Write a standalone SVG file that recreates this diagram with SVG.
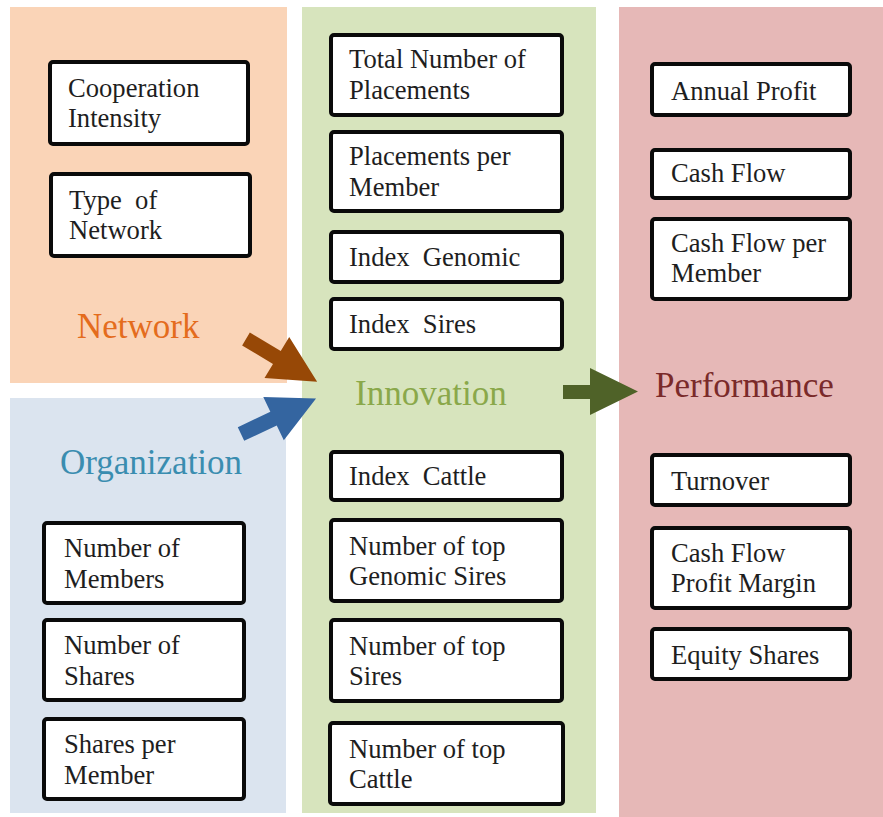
<svg xmlns="http://www.w3.org/2000/svg" width="883" height="817" viewBox="0 0 883 817">
  <style>
    .panel { stroke: none; }
    .box { fill: #ffffff; stroke: #0a0a0a; stroke-width: 4; }
    .t { font-family: 'Liberation Serif', 'DejaVu Serif', 'Times New Roman', Times, serif; font-size: 26.6px; fill: #1e1e1e; }
    .title { font-family: 'Liberation Serif', 'DejaVu Serif', 'Times New Roman', Times, serif; font-size: 35px; }
  </style>
  <defs>
    <!-- block arrow pointing right, tail at origin -->
    <path id="blockArrow" d="M0,-7.5 L36,-7.5 L36,-24 L83,0 L36,24 L36,7.5 L0,7.5 Z"/>
  </defs>
  <rect width="883" height="817" fill="#ffffff"/>

  <!-- background panels -->
  <g id="panels">
    <rect class="panel" x="10" y="7" width="277" height="376" fill="#fad4b7"/>
    <rect class="panel" x="10" y="398" width="276" height="415" fill="#dbe4ef"/>
    <rect class="panel" x="302" y="7" width="294" height="806" fill="#d7e4bd"/>
    <rect class="panel" x="619" y="7" width="264" height="810" fill="#e6b8b7"/>
  </g>

  <!-- panel titles -->
  <g id="titles">
    <text class="title" x="77" y="338" fill="#e46c1d">Network</text>
    <text class="title" x="60" y="474" fill="#3a8db0">Organization</text>
    <text class="title" x="355" y="405" fill="#8aa84a">Innovation</text>
    <text class="title" x="655" y="397" fill="#7a2a2a">Performance</text>
  </g>

  <!-- Network group -->
  <g id="network">
    <g id="n-cooperation">
      <rect class="box" x="50" y="62" width="198" height="82" rx="3"/>
      <text class="t" x="68" y="97">Cooperation</text>
      <text class="t" x="68" y="127">Intensity</text>
    </g>
    <g id="n-type">
      <rect class="box" x="51" y="174" width="199" height="82" rx="3"/>
      <text class="t" x="69" y="209" xml:space="preserve">Type  of</text>
      <text class="t" x="69" y="239">Network</text>
    </g>
  </g>

  <!-- Organization group -->
  <g id="organization">
    <g id="o-members">
      <rect class="box" x="44" y="523" width="200" height="80" rx="3"/>
      <text class="t" x="64" y="557">Number of</text>
      <text class="t" x="64" y="588">Members</text>
    </g>
    <g id="o-shares">
      <rect class="box" x="44" y="620" width="200" height="80" rx="3"/>
      <text class="t" x="64" y="654">Number of</text>
      <text class="t" x="64" y="685">Shares</text>
    </g>
    <g id="o-shares-member">
      <rect class="box" x="44" y="719" width="200" height="80" rx="3"/>
      <text class="t" x="64" y="753">Shares per</text>
      <text class="t" x="64" y="784">Member</text>
    </g>
  </g>

  <!-- Innovation group -->
  <g id="innovation">
    <g id="i-total">
      <rect class="box" x="331" y="35" width="231" height="80" rx="3"/>
      <text class="t" x="349" y="68">Total Number of</text>
      <text class="t" x="349" y="99">Placements</text>
    </g>
    <g id="i-per-member">
      <rect class="box" x="331" y="132" width="231" height="79" rx="3"/>
      <text class="t" x="349" y="165">Placements per</text>
      <text class="t" x="349" y="196">Member</text>
    </g>
    <g id="i-genomic">
      <rect class="box" x="331" y="232" width="231" height="50" rx="3"/>
      <text class="t" x="349" y="266" xml:space="preserve">Index  Genomic</text>
    </g>
    <g id="i-sires">
      <rect class="box" x="331" y="299" width="231" height="50" rx="3"/>
      <text class="t" x="349" y="333" xml:space="preserve">Index  Sires</text>
    </g>
    <g id="i-cattle">
      <rect class="box" x="331" y="452" width="231" height="48" rx="3"/>
      <text class="t" x="349" y="485" xml:space="preserve">Index  Cattle</text>
    </g>
    <g id="i-top-genomic">
      <rect class="box" x="331" y="520" width="231" height="81" rx="3"/>
      <text class="t" x="349" y="555">Number of top</text>
      <text class="t" x="349" y="585">Genomic Sires</text>
    </g>
    <g id="i-top-sires">
      <rect class="box" x="331" y="620" width="231" height="81" rx="3"/>
      <text class="t" x="349" y="655">Number of top</text>
      <text class="t" x="349" y="685">Sires</text>
    </g>
    <g id="i-top-cattle">
      <rect class="box" x="330" y="723" width="233" height="81" rx="3"/>
      <text class="t" x="349" y="758">Number of top</text>
      <text class="t" x="349" y="788">Cattle</text>
    </g>
  </g>

  <!-- Performance group -->
  <g id="performance">
    <g id="p-profit">
      <rect class="box" x="652" y="64" width="198" height="51" rx="3"/>
      <text class="t" x="671" y="100">Annual Profit</text>
    </g>
    <g id="p-cashflow">
      <rect class="box" x="652" y="150" width="198" height="48" rx="3"/>
      <text class="t" x="671" y="182">Cash Flow</text>
    </g>
    <g id="p-cashflow-member">
      <rect class="box" x="652" y="219" width="198" height="80" rx="3"/>
      <text class="t" x="671" y="252">Cash Flow per</text>
      <text class="t" x="671" y="282">Member</text>
    </g>
    <g id="p-turnover">
      <rect class="box" x="652" y="455" width="198" height="50" rx="3"/>
      <text class="t" x="671" y="490">Turnover</text>
    </g>
    <g id="p-margin">
      <rect class="box" x="652" y="528" width="198" height="80" rx="3"/>
      <text class="t" x="671" y="562">Cash Flow</text>
      <text class="t" x="671" y="592">Profit Margin</text>
    </g>
    <g id="p-equity">
      <rect class="box" x="652" y="629" width="198" height="50" rx="3"/>
      <text class="t" x="671" y="664">Equity Shares</text>
    </g>
  </g>

  <!-- connectors -->
  <g id="connectors">
    <use href="#blockArrow" fill="#974806" transform="translate(246,339) rotate(31)"/>
    <use href="#blockArrow" fill="#3465a0" transform="translate(241,434) rotate(-25.3)"/>
    <path d="M563,385 L590,385 L590,368 L638,391.5 L590,415 L590,399 L563,399 Z" fill="#4f6228"/>
  </g>
</svg>
